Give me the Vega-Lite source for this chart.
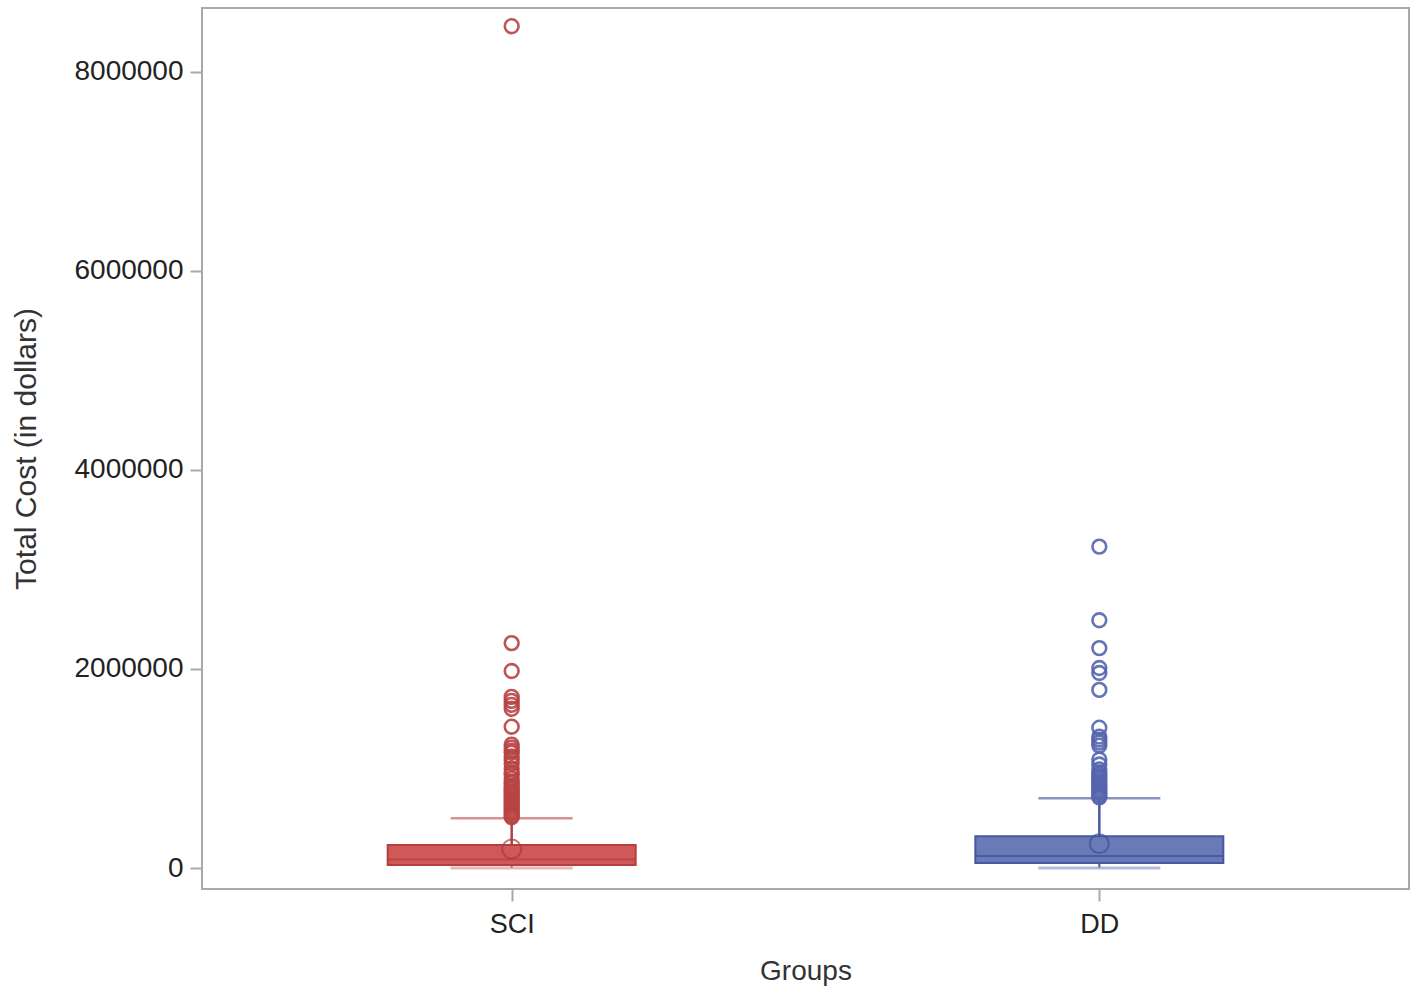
{
  "$schema": "https://vega.github.io/schema/vega-lite/v6.json",
  "autosize": "none",
  "width": 1207,
  "height": 881,
  "padding": {"left": 202, "top": 8, "right": 9, "bottom": 110},
  "background": "white",
  "config": {
    "view": {"stroke": "#a3abb0", "strokeWidth": 2},
    "font": "Liberation Sans",
    "axis": {
      "domain": false,
      "grid": false,
      "tickColor": "#a3abb0",
      "tickWidth": 2,
      "tickSize": 12,
      "labelFontSize": 28,
      "labelColor": "#222222",
      "titleFontSize": 30,
      "titleColor": "#333333",
      "titleFontWeight": "normal"
    }
  },
  "datasets": {
    "boxes": [
      {"group": "SCI", "lo": 0, "q1": 30000, "median": 85000, "q3": 231000, "hi": 500000, "mean": 190000},
      {"group": "DD", "lo": 0, "q1": 50000, "median": 120000, "q3": 320000, "hi": 700000, "mean": 245000}
    ],
    "outliers": [
      {"group": "SCI", "cost": 8460000}, {"group": "SCI", "cost": 2260000}, {"group": "SCI", "cost": 1980000},
      {"group": "SCI", "cost": 1720000}, {"group": "SCI", "cost": 1680000}, {"group": "SCI", "cost": 1640000},
      {"group": "SCI", "cost": 1600000}, {"group": "SCI", "cost": 1420000}, {"group": "SCI", "cost": 1240000},
      {"group": "SCI", "cost": 1210000}, {"group": "SCI", "cost": 1180000}, {"group": "SCI", "cost": 1160000},
      {"group": "SCI", "cost": 1120000}, {"group": "SCI", "cost": 1090000}, {"group": "SCI", "cost": 1050000},
      {"group": "SCI", "cost": 1000000}, {"group": "SCI", "cost": 960000}, {"group": "SCI", "cost": 940000},
      {"group": "SCI", "cost": 900000}, {"group": "SCI", "cost": 870000}, {"group": "SCI", "cost": 850000},
      {"group": "SCI", "cost": 820000}, {"group": "SCI", "cost": 800000}, {"group": "SCI", "cost": 780000},
      {"group": "SCI", "cost": 760000}, {"group": "SCI", "cost": 740000}, {"group": "SCI", "cost": 720000},
      {"group": "SCI", "cost": 700000}, {"group": "SCI", "cost": 680000}, {"group": "SCI", "cost": 660000},
      {"group": "SCI", "cost": 640000}, {"group": "SCI", "cost": 620000}, {"group": "SCI", "cost": 600000},
      {"group": "SCI", "cost": 580000}, {"group": "SCI", "cost": 560000}, {"group": "SCI", "cost": 540000},
      {"group": "SCI", "cost": 520000}, {"group": "SCI", "cost": 510000},
      {"group": "DD", "cost": 3230000}, {"group": "DD", "cost": 2490000}, {"group": "DD", "cost": 2210000},
      {"group": "DD", "cost": 2010000}, {"group": "DD", "cost": 1960000}, {"group": "DD", "cost": 1790000},
      {"group": "DD", "cost": 1410000}, {"group": "DD", "cost": 1320000}, {"group": "DD", "cost": 1290000},
      {"group": "DD", "cost": 1260000}, {"group": "DD", "cost": 1230000}, {"group": "DD", "cost": 1090000},
      {"group": "DD", "cost": 1040000}, {"group": "DD", "cost": 990000}, {"group": "DD", "cost": 960000},
      {"group": "DD", "cost": 940000}, {"group": "DD", "cost": 920000}, {"group": "DD", "cost": 900000},
      {"group": "DD", "cost": 880000}, {"group": "DD", "cost": 860000}, {"group": "DD", "cost": 840000},
      {"group": "DD", "cost": 820000}, {"group": "DD", "cost": 800000}, {"group": "DD", "cost": 780000},
      {"group": "DD", "cost": 760000}, {"group": "DD", "cost": 740000}, {"group": "DD", "cost": 720000},
      {"group": "DD", "cost": 710000}
    ]
  },
  "encoding": {
    "x": {
      "field": "group",
      "type": "nominal",
      "sort": ["SCI", "DD"],
      "scale": {"type": "point", "padding": 0.527, "domain": ["SCI", "DD"]},
      "axis": {"title": "Groups", "labelAngle": 0, "labelPadding": 10, "titlePadding": 20, "labelFontSize": 27, "titleFontSize": 28}
    }
  },
  "layer": [
    {
      "data": {"name": "boxes"},
      "mark": {"type": "rule", "strokeWidth": 2},
      "encoding": {
        "y": {"field": "q1", "type": "quantitative"},
        "y2": {"field": "lo"},
        "color": {"condition": {"test": "datum.group === 'SCI'", "value": "#b33e3e"}, "value": "#4a5aa0"}
      }
    },
    {
      "data": {"name": "boxes"},
      "mark": {"type": "rule", "strokeWidth": 2.5},
      "encoding": {
        "y": {
          "field": "q3",
          "type": "quantitative",
          "scale": {"domain": [-211000, 8643000], "nice": false, "zero": false},
          "axis": {
            "title": "Total Cost (in dollars)",
            "values": [0, 2000000, 4000000, 6000000, 8000000],
            "format": "d",
            "labelPadding": 7,
            "titlePadding": 32
          }
        },
        "y2": {"field": "hi"},
        "color": {"condition": {"test": "datum.group === 'SCI'", "value": "#b33e3e"}, "value": "#4a5aa0"}
      }
    },
    {
      "data": {"name": "boxes"},
      "mark": {"type": "tick", "size": 122, "thickness": 2.5},
      "encoding": {
        "y": {"field": "hi", "type": "quantitative"},
        "color": {"condition": {"test": "datum.group === 'SCI'", "value": "#c86464"}, "value": "#5565a8"}
      }
    },
    {
      "data": {"name": "boxes"},
      "mark": {"type": "tick", "size": 122, "thickness": 3},
      "encoding": {
        "y": {"field": "lo", "type": "quantitative"},
        "color": {"condition": {"test": "datum.group === 'SCI'", "value": "#dc9a9a"}, "value": "#939dcc"}
      }
    },
    {
      "data": {"name": "boxes"},
      "mark": {"type": "bar", "size": 248, "strokeWidth": 2},
      "encoding": {
        "y": {"field": "q1", "type": "quantitative"},
        "y2": {"field": "q3"},
        "fill": {"condition": {"test": "datum.group === 'SCI'", "value": "#d05858"}, "value": "#6a7ab6"},
        "stroke": {"condition": {"test": "datum.group === 'SCI'", "value": "#b53f3f"}, "value": "#4757a0"}
      }
    },
    {
      "data": {"name": "boxes"},
      "mark": {"type": "tick", "size": 248, "thickness": 2},
      "encoding": {
        "y": {"field": "median", "type": "quantitative"},
        "color": {"condition": {"test": "datum.group === 'SCI'", "value": "#b53f3f"}, "value": "#3f4f99"}
      }
    },
    {
      "data": {"name": "boxes"},
      "mark": {"type": "point", "shape": "circle", "filled": false, "size": 360, "strokeWidth": 2},
      "encoding": {
        "y": {"field": "mean", "type": "quantitative"},
        "color": {"condition": {"test": "datum.group === 'SCI'", "value": "#a83a3a"}, "value": "#3f4f99"}
      }
    },
    {
      "data": {"name": "outliers"},
      "mark": {"type": "point", "shape": "circle", "filled": false, "size": 190, "strokeWidth": 2.6, "opacity": 0.9},
      "encoding": {
        "y": {"field": "cost", "type": "quantitative"},
        "color": {"condition": {"test": "datum.group === 'SCI'", "value": "#b84444"}, "value": "#5565ad"}
      }
    }
  ]
}
